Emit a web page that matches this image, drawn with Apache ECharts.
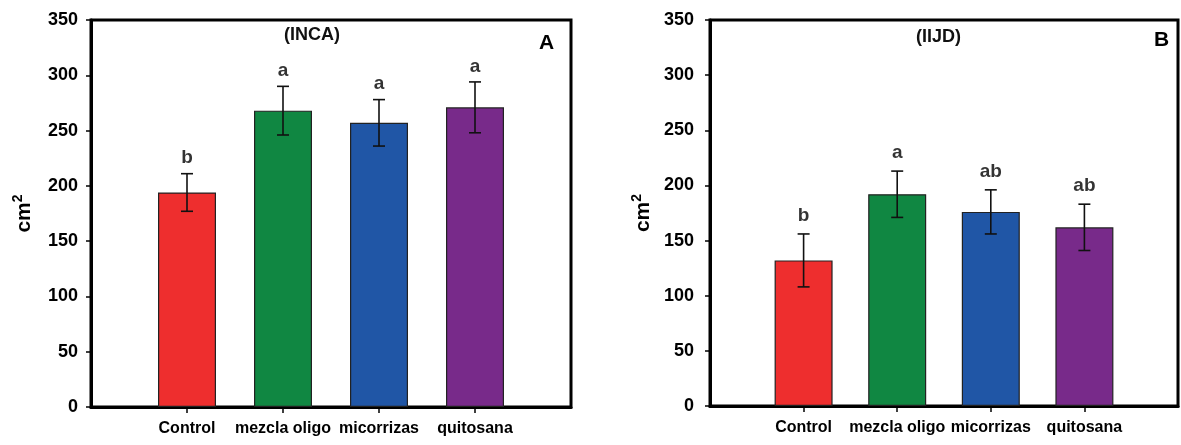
<!DOCTYPE html>
<html>
<head>
<meta charset="utf-8">
<script src="https://cdn.jsdelivr.net/npm/echarts@6/dist/echarts.min.js"></script>
<style>
  html, body { margin: 0; padding: 0; background: #fff; }
  #chart { width: 1181px; height: 445px; }
</style>
</head>
<body>
<div id="chart"></div>
<script>
// categorias (con huecos vacios a los lados para dejar espacio como en el original)
const categorias = ['', 'Control', 'mezcla oligo', 'micorrizas', 'quitosana', ''];
const colores = ['#ee2e2e', '#108742', '#2056a6', '#782a8a'];

// Panel A (INCA)
const mediaA = [194, 268, 257, 271];
const errorA = [17, 22, 21, 23];
const letrasA = ['b', 'a', 'a', 'a'];

// Panel B (IIJD)
const mediaB = [132, 192, 176, 162];
const errorB = [24, 21, 20, 21];
const letrasB = ['b', 'a', 'ab', 'ab'];

const ticksY = { min: 0, max: 350, interval: 50 };

const fuente = 'Liberation Sans, Arial, sans-serif';

function barras(medias) {
    return ['-'].concat(medias.map((v, i) => ({
        value: v,
        itemStyle: { color: colores[i] }
    }))).concat(['-']);
}

function barrasError(medias, errores) {
    return medias.map((v, i) => [i + 1, v - errores[i], v + errores[i]]);
}

function puntosLetras(medias, errores, letras) {
    return medias.map((v, i) => ({ value: [i + 1, v + errores[i]], letra: letras[i] }));
}

// dibuja la linea del error con sus topes
function renderError(params, api) {
    const x = api.value(0);
    const pLo = api.coord([x, api.value(1)]);
    const pHi = api.coord([x, api.value(2)]);
    const cap = 6;
    const estilo = { stroke: '#111', lineWidth: 1.6 };
    return {
        type: 'group',
        children: [
            { type: 'line', shape: { x1: pHi[0], y1: pHi[1], x2: pLo[0], y2: pLo[1] }, style: estilo },
            { type: 'line', shape: { x1: pHi[0] - cap, y1: pHi[1], x2: pHi[0] + cap, y2: pHi[1] }, style: estilo },
            { type: 'line', shape: { x1: pLo[0] - cap, y1: pLo[1], x2: pLo[0] + cap, y2: pLo[1] }, style: estilo }
        ]
    };
}

function ejeX(idx) {
    return {
        type: 'category',
        gridIndex: idx,
        data: categorias,
        boundaryGap: false,
        axisLine: { lineStyle: { color: '#000', width: 3 } },
        axisTick: {
            show: true,
            length: 6,
            lineStyle: { color: '#000', width: 1.5 },
            interval: (i) => i > 0 && i < categorias.length - 1
        },
        axisLabel: {
            interval: 0,
            margin: 14,
            color: '#000',
            fontFamily: fuente,
            fontWeight: 'bold',
            fontSize: 16
        },
        splitLine: { show: false }
    };
}

function ejeY(idx, margen, gap) {
    return {
        type: 'value',
        gridIndex: idx,
        min: ticksY.min,
        max: ticksY.max,
        interval: ticksY.interval,
        name: '{b|cm}{s|2}',
        nameLocation: 'middle',
        nameGap: gap,
        nameTextStyle: {
            rich: {
                b: { fontFamily: fuente, fontWeight: 'bold', fontSize: 21, color: '#000' },
                s: { fontFamily: fuente, fontWeight: 'bold', fontSize: 14, color: '#000', padding: [0, 0, 12, 0] }
            }
        },
        axisLine: { show: true, lineStyle: { color: '#000', width: 3 } },
        axisTick: { show: true, length: 5, lineStyle: { color: '#000', width: 1.5 } },
        axisLabel: {
            margin: margen,
            color: '#000',
            fontFamily: fuente,
            fontWeight: 'bold',
            fontSize: 18
        },
        splitLine: { show: false }
    };
}

function seriesPanel(idx, medias, errores, letras, dist) {
    return [
        {
            type: 'bar',
            xAxisIndex: idx,
            yAxisIndex: idx,
            barWidth: 58,
            data: barras(medias),
            itemStyle: { borderColor: '#222', borderWidth: 1.2 },
            silent: true
        },
        {
            type: 'custom',
            xAxisIndex: idx,
            yAxisIndex: idx,
            renderItem: renderError,
            data: barrasError(medias, errores),
            z: 5,
            silent: true
        },
        {
            type: 'scatter',
            xAxisIndex: idx,
            yAxisIndex: idx,
            symbolSize: 0,
            data: puntosLetras(medias, errores, letras),
            label: {
                show: true,
                position: 'top',
                distance: dist,
                formatter: (p) => p.data.letra,
                color: '#000',
                fontFamily: fuente,
                fontWeight: 'bold',
                fontSize: 19
            },
            silent: true
        }
    ];
}

const myChart = echarts.init(document.getElementById('chart'));

const option = {
    backgroundColor: '#fff',
    animation: false,
    grid: [
        { left: 91, top: 20, width: 480, height: 387, show: true, borderColor: '#000', borderWidth: 3 },
        { left: 710, top: 20, width: 475, height: 386, show: true, borderColor: '#000', borderWidth: 3 }
    ],
    xAxis: [ejeX(0), ejeX(1)],
    yAxis: [ejeY(0, 13, 54), ejeY(1, 16, 54)],
    graphic: [
        { type: 'text', left: 284, top: 26, style: { text: '(INCA)', fontFamily: fuente, fontWeight: 'bold', fontSize: 18, fill: '#111' } },
        { type: 'text', left: 539, top: 33, style: { text: 'A', fontFamily: fuente, fontWeight: 'bold', fontSize: 21, fill: '#000' } },
        { type: 'text', left: 916, top: 28, style: { text: '(IIJD)', fontFamily: fuente, fontWeight: 'bold', fontSize: 18, fill: '#111' } },
        { type: 'text', left: 1154, top: 30, style: { text: 'B', fontFamily: fuente, fontWeight: 'bold', fontSize: 21, fill: '#000' } }
    ],
    series: seriesPanel(0, mediaA, errorA, letrasA, 6).concat(seriesPanel(1, mediaB, errorB, letrasB, 9))
};

option && myChart.setOption(option);
</script>
</body>
</html>
